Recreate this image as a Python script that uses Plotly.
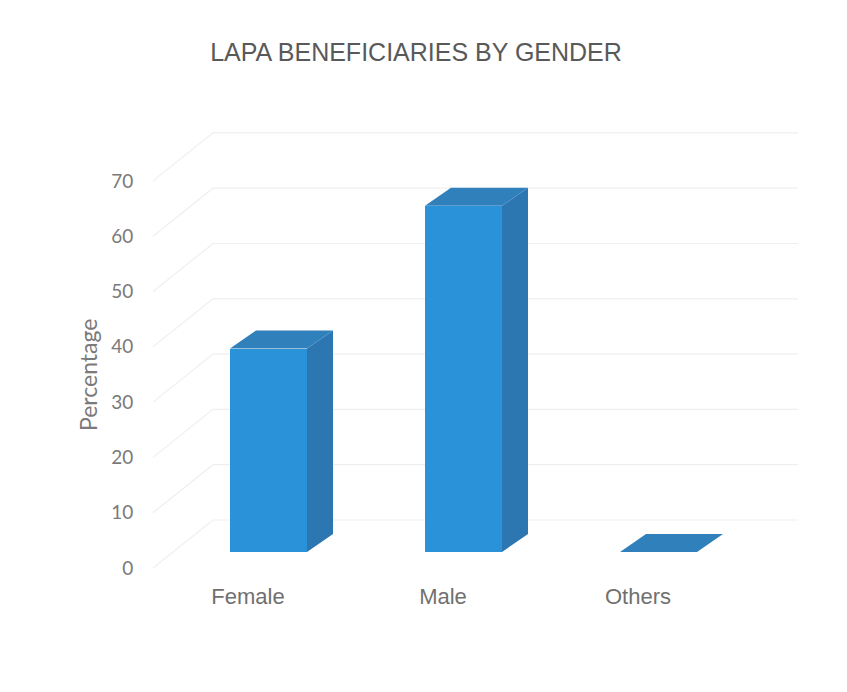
import plotly.graph_objects as go

# ---- data ----
categories = ["Female", "Male", "Others"]
percentages = [36.8, 62.6, 0.0]
y_ticks = [0, 10, 20, 30, 40, 50, 60, 70]
title_text = "LAPA BENEFICIARIES BY GENDER"
y_title = "Percentage"

# ---- geometry (pixels) ----
W, H = 847, 692
L, R, T, B = 140, 800, 100, 581
Y_ZERO_PX = 568.0      # pixel of value 0 at the front (tick labels)
Y_SCALE = 5.53         # pixels per unit
X0_PX = 248.0          # pixel of first category label
X_STEP = 195.0         # pixels between categories

y_lo = (Y_ZERO_PX - B) / Y_SCALE
y_hi = (Y_ZERO_PX - T) / Y_SCALE
x_lo = (L - X0_PX) / X_STEP
x_hi = (R - X0_PX) / X_STEP

def dx(px):
    return px / X_STEP

def dy(px):
    return px / Y_SCALE

bar_shift = dx(20.5)      # bar front centre relative to label
bar_w = dx(77)
bar_base = dy(16)         # bar floor level above front label zero
depth_x, depth_y = dx(26), dy(18)
wall_x0 = dx(153 - X0_PX)
wall_dx, wall_dy = dx(60), dy(48)
wall_x1 = dx(798 - X0_PX)

front_col = "#2a92d9"
side_col = "#2c76b2"
top_col = "#3080bc"
grid_col = "#efefef"

fig = go.Figure()

# gridlines (base axes, drawn underneath): side wall slants + back wall horizontals
gx, gy = [], []
for t in y_ticks:
    gx += [wall_x0, wall_x0 + wall_dx, wall_x1, None]
    gy += [t, t + wall_dy, t + wall_dy, None]
fig.add_trace(go.Scatter(x=gx, y=gy, mode="lines",
                         line=dict(color=grid_col, width=1.2),
                         hoverinfo="skip", showlegend=False))

xs = [i + bar_shift for i in range(len(categories))]

# front faces (overlay axes, drawn above gridlines)
fig.add_trace(go.Bar(x=xs, y=percentages, base=bar_base, width=bar_w,
                     marker=dict(color=front_col, line=dict(width=0)),
                     hoverinfo="skip", showlegend=False,
                     xaxis="x2", yaxis="y2"))

# side faces
sx, sy = [], []
for xc, v in zip(xs, percentages):
    if v <= 0:
        continue
    xr = xc + bar_w / 2
    sx += [xr, xr, xr + depth_x, xr + depth_x, xr, None]
    sy += [bar_base, bar_base + v, bar_base + v + depth_y, bar_base + depth_y, bar_base, None]
fig.add_trace(go.Scatter(x=sx, y=sy, mode="lines", fill="toself",
                         fillcolor=side_col, line=dict(width=0, color=side_col),
                         hoverinfo="skip", showlegend=False,
                         xaxis="x2", yaxis="y2"))

# top faces
tx, ty = [], []
for xc, v in zip(xs, percentages):
    xl, xr = xc - bar_w / 2, xc + bar_w / 2
    top = bar_base + v
    tx += [xl, xr, xr + depth_x, xl + depth_x, xl, None]
    ty += [top, top, top + depth_y, top + depth_y, top, None]
fig.add_trace(go.Scatter(x=tx, y=ty, mode="lines", fill="toself",
                         fillcolor=top_col, line=dict(width=0, color=top_col),
                         hoverinfo="skip", showlegend=False,
                         xaxis="x2", yaxis="y2"))

hidden = dict(showgrid=False, zeroline=False, showline=False,
              showticklabels=False, ticks="")

fig.update_layout(
    width=W, height=H,
    margin=dict(l=L, r=W - R, t=T, b=H - B),
    paper_bgcolor="white", plot_bgcolor="white",
    title=dict(text=title_text, x=416 / W, xref="container", xanchor="center",
               y=1 - 52 / H, yref="container", yanchor="middle",
               font=dict(family="Liberation Sans, Arial", size=25, color="#595959")),
    xaxis=dict(range=[x_lo, x_hi], tickvals=list(range(len(categories))),
               ticktext=categories, showgrid=False, zeroline=False, showline=False,
               ticks="", tickfont=dict(family="Liberation Sans, Arial", size=22, color="#707070")),
    yaxis=dict(range=[y_lo, y_hi], tickvals=y_ticks, showgrid=False,
               zeroline=False, showline=False,
               ticks="outside", ticklen=2, tickcolor="rgba(0,0,0,0)",
               tickfont=dict(family="Lato, Open Sans", size=19, color="#7a7a7a")),
    xaxis2=dict(range=[x_lo, x_hi], overlaying="x", **hidden),
    yaxis2=dict(range=[y_lo, y_hi], overlaying="y", **hidden),
    annotations=[dict(text=y_title, textangle=-90, xref="paper", yref="paper",
                      x=(88 - L) / (R - L), y=(B - 375) / (B - T),
                      xanchor="center", yanchor="middle", showarrow=False,
                      font=dict(family="Lato, Open Sans", size=23, color="#7a7a7a"))],
    bargap=0,
    hovermode=False,
)

fig.write_html("out.html", config={"displayModeBar": False},
               post_script="document.body.style.margin='0px';")
